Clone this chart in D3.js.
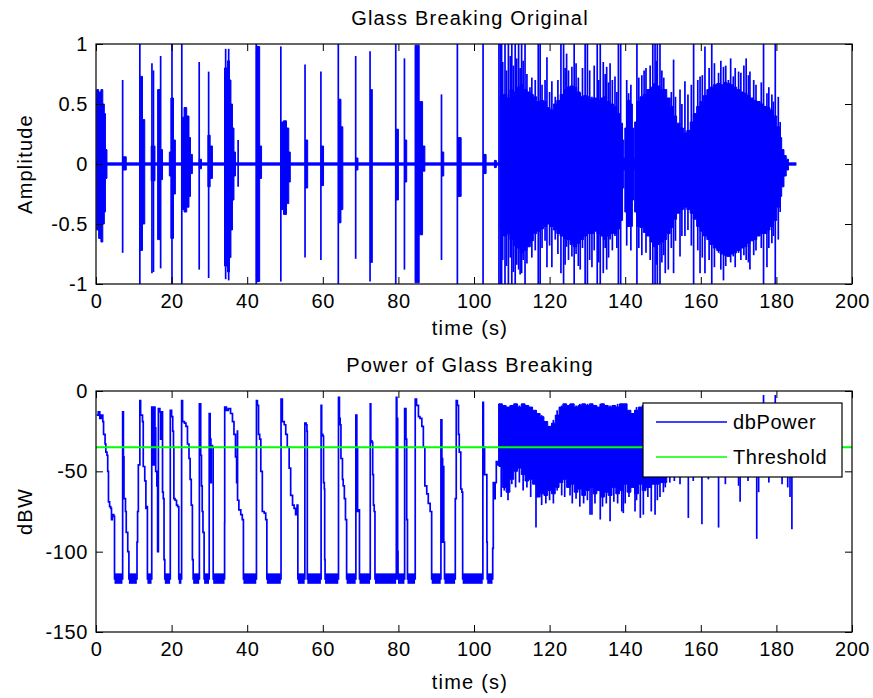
<!DOCTYPE html>
<html>
<head>
<meta charset="utf-8">
<script src="https://cdn.jsdelivr.net/npm/d3@7"></script>
<style>
  html, body { margin: 0; padding: 0; background: #ffffff; }
  svg text { font-family: "Liberation Sans", Arial, Helvetica, sans-serif; fill: #000; letter-spacing: 0.6px; }
  svg text.title { letter-spacing: 1.2px; }
</style>
</head>
<body>
<svg id="fig" width="873" height="698"></svg>
<script>
// ---------- shared axis values ----------
const timeTicks = [0, 20, 40, 60, 80, 100, 120, 140, 160, 180, 200];
const ampTicks = [-1, -0.5, 0, 0.5, 1];
const dbTicks = [-150, -100, -50, 0];
const timeDomain = [0, 200];
const ampDomain = [-1, 1];
const dbDomain = [-150, 0];

// ---------- waveform (amplitude) ----------
// quiet noise floor of the recording: [start, end, half-width]
const noiseFloor = [0, 185.3, 0.014];

// isolated bursts: rows of [t, upper, lower], held until the next row
const bursts = [
  [[0.2, 0.62, -0.55], [0.7, 0.6, -0.62], [1.3, 0.62, -0.65], [1.8, 0.5, -0.5], [2.2, 0.42, -0.4], [2.5, 0.12, -0.12], [2.9, 0, 0]],
  [[7.1, 0.06, -0.05], [8.0, 0, 0]],
  [[11.7, 0.73, -0.72], [12.3, 0.37, -0.5], [12.9, 0, 0]],
  [[14.6, 0.15, -0.14], [15.6, 0, 0]],
  [[16.3, 0.62, -0.63], [17.0, 0.12, -0.13], [17.6, 0, 0]],
  [[19.4, 0.1, -0.1], [19.8, 0.55, -0.62], [20.5, 0.2, -0.25], [21.0, 0, 0]],
  [[22.8, 0.39, -0.38], [23.3, 0.47, -0.4], [24.0, 0.4, -0.36], [24.6, 0.22, -0.27], [25.0, 0.08, -0.08], [25.5, 0, 0]],
  [[27.3, 0.04, -0.04], [27.9, 0, 0]],
  [[29.6, 0.24, -0.19], [30.2, 0.15, -0.12], [30.8, 0, 0]],
  [[34.0, 0.8, -0.85], [34.8, 0.86, -0.9], [35.3, 0.7, -0.78], [35.7, 0.5, -0.55], [36.1, 0.3, -0.3], [36.5, 0.1, -0.1], [36.9, 0, 0]],
  [[42.4, 0.98, -0.98], [43.3, 0.15, -0.12], [43.8, 0, 0]],
  [[49.0, 0.35, -0.38], [49.6, 0.36, -0.42], [50.4, 0.3, -0.33], [51.0, 0.1, -0.15], [51.4, 0, 0]],
  [[55.4, 0.2, -0.2], [56.0, 0, 0]],
  [[59.6, 0.15, -0.18], [60.2, 0, 0]],
  [[64.2, 0.54, -0.49], [64.8, 0.31, -0.38], [65.3, 0, 0]],
  [[68.8, 0.05, -0.05], [69.3, 0, 0]],
  [[72.6, 0.62, -0.82], [73.1, 0, 0]],
  [[79.4, 0.29, -0.3], [80.0, 0, 0]],
  [[81.7, 0.2, -0.15], [82.2, 0, 0]],
  [[84.4, 0.99, -0.99], [85.5, 0.52, -0.59], [86.4, 0.15, -0.06], [87.0, 0, 0]],
  [[91.5, 0.1, -0.1], [92.0, 0, 0]],
  [[95.7, 0.22, -0.27], [96.6, 0, 0]],
  [[102.5, 0.08, -0.08], [103.2, 0, 0]],
  [[105.4, 0.03, -0.03], [105.9, 0, 0]]
];

// continuous breaking section: [t, upper, lower]
const denseEnvelope = [
  [106.9, 0.56, -0.55], [107.8, 0.58, -0.6], [108.7, 0.55, -0.58], [109.5, 0.62, -0.63],
  [110.4, 0.6, -0.68], [111.3, 0.64, -0.7], [112.2, 0.66, -0.74], [113.1, 0.62, -0.72],
  [114.0, 0.6, -0.69], [114.9, 0.58, -0.64], [115.7, 0.56, -0.58], [116.6, 0.52, -0.56],
  [117.5, 0.53, -0.54], [118.4, 0.52, -0.52], [119.2, 0.47, -0.5], [120.1, 0.45, -0.52],
  [121.0, 0.5, -0.55], [121.9, 0.53, -0.58], [122.8, 0.58, -0.6], [123.7, 0.62, -0.62],
  [124.5, 0.64, -0.63], [125.4, 0.65, -0.67], [126.3, 0.64, -0.69], [127.2, 0.6, -0.66],
  [128.1, 0.56, -0.63], [129.0, 0.57, -0.6], [129.8, 0.56, -0.58], [130.7, 0.54, -0.58],
  [131.6, 0.55, -0.56], [132.5, 0.53, -0.58], [133.4, 0.55, -0.6], [134.2, 0.56, -0.63],
  [135.1, 0.52, -0.6], [136.0, 0.5, -0.58], [136.9, 0.48, -0.58], [137.8, 0.42, -0.54],
  [138.7, 0.34, -0.47], [139.3, 0.2, -0.2], [139.6, 0.05, -0.05], [139.9, 0.3, -0.4],
  [140.4, 0.53, -0.52], [141.3, 0.5, -0.52], [141.9, 0.3, -0.3], [142.2, 0.05, -0.05],
  [142.5, 0.35, -0.4], [143.1, 0.52, -0.52], [143.9, 0.56, -0.53], [144.8, 0.58, -0.57],
  [145.7, 0.62, -0.6], [146.6, 0.64, -0.65], [147.5, 0.67, -0.69], [148.4, 0.65, -0.67],
  [149.2, 0.62, -0.65], [150.1, 0.62, -0.63], [151.0, 0.55, -0.58], [151.9, 0.48, -0.53],
  [152.8, 0.4, -0.46], [153.6, 0.34, -0.41], [154.5, 0.3, -0.38], [155.4, 0.26, -0.36],
  [156.3, 0.28, -0.38], [157.2, 0.35, -0.41], [158.0, 0.42, -0.46], [158.9, 0.48, -0.52],
  [159.8, 0.52, -0.56], [160.7, 0.57, -0.6], [161.6, 0.62, -0.63], [162.4, 0.64, -0.67],
  [163.3, 0.66, -0.7], [164.2, 0.67, -0.72], [165.1, 0.66, -0.75], [166.0, 0.68, -0.76],
  [166.9, 0.67, -0.77], [167.8, 0.66, -0.75], [168.6, 0.64, -0.74], [169.5, 0.62, -0.72],
  [170.4, 0.6, -0.7], [171.3, 0.59, -0.69], [172.2, 0.57, -0.66], [173.0, 0.55, -0.64],
  [173.9, 0.53, -0.63], [174.8, 0.52, -0.6], [175.7, 0.5, -0.58], [176.6, 0.48, -0.58],
  [177.5, 0.47, -0.55], [178.3, 0.45, -0.52], [179.2, 0.4, -0.47], [180.1, 0.31, -0.36],
  [180.8, 0.22, -0.27], [181.4, 0.12, -0.19], [182.0, 0.07, -0.1], [182.6, 0.04, -0.05],
  [183.2, 0.02, -0.02]
];

// single impacts: [t, peak, trough]
const spikes = [
  [7.05, 0.70, -0.74], [11.6, 1, -1], [14.8, 0.84, -0.91], [15.2, 0.78, -0.9], [17.1, 0.9, -0.87],
  [20.1, 1, -1], [22.7, 1, -1], [27.3, 0.85, -0.88], [29.8, 0.77, -0.95], [34.3, 0.96, -0.96],
  [35.1, 0.96, -0.97], [37.6, 0.2, -0.19], [42.4, 1, -1], [48.9, 0.98, -0.98], [55.3, 0.83, -0.78],
  [59.5, 0.77, -0.8], [64.1, 1, -1], [68.7, 0.9, -0.79], [72.5, 0.94, -0.98], [79.3, 1, -1],
  [81.6, 0.88, -0.88], [91.4, 0.58, -0.8], [95.6, 1, -1], [102.4, 1, -1], [106.6, 1, -1], [107.0, 1, -1],
  [107.3, 1, -1], [108.2, 1, -1], [109.1, 1, -1], [110.0, 1, -1], [110.9, 1, -1], [111.8, 1, -0.88],
  [112.6, 1, -0.91], [113.5, 1, -1], [114.8, 0.64, -0.66], [117.0, 1, -1], [117.5, 1, -1],
  [119.3, 0.89, -0.86], [120.6, 0.69, -0.86], [121.5, 0.56, -0.63], [123.0, 1, -0.91], [123.7, 1, -1],
  [124.5, 0.92, -0.69], [125.9, 0.81, -0.77], [126.5, 1, -1], [128.1, 0.59, -0.88], [129.4, 1, -1],
  [130.0, 1, -1], [131.2, 0.56, -0.86], [132.6, 1, -1], [133.4, 1, -1], [134.2, 0.85, -0.91],
  [135.1, 0.81, -0.88], [136.0, 0.84, -0.63], [137.3, 0.73, -0.6], [138.2, 1, -1], [138.8, 1, -1],
  [140.9, 0.59, -0.52], [143.1, 1, -1], [145.0, 0.78, -0.25], [146.1, 0.62, -0.52], [147.3, 1, -1],
  [147.9, 1, -1], [148.5, 1, -1], [149.2, 1, -1], [150.6, 0.53, -0.91], [151.4, 0.53, -0.88],
  [152.8, 0.87, -0.91], [154.5, 0.62, -0.77], [155.8, 0.69, -0.6], [158.1, 1, -1], [159.8, 0.73, -0.91],
  [161.1, 0.98, -0.91], [162.9, 1, -1], [164.7, 0.76, -0.74], [166.0, 0.81, -0.97], [167.3, 0.7, -0.63],
  [168.6, 0.73, -0.77], [170.0, 0.77, -0.74], [172.0, 0.88, -0.8], [173.0, 0.77, -0.88],
  [175.3, 0.45, -0.52], [176.6, 1, -1], [177.5, 0.59, -0.86], [179.7, 1, -1], [180.5, 0.56, -0.63],
  // smaller cracks riding on the continuous section
  [107.6, 0.85, -0.8], [108.6, 0.78, -0.85], [109.6, 0.9, -0.78], [110.4, 0.82, -0.9], [111.3, 0.88, -0.84],
  [112.2, 0.8, -0.92], [113.0, 0.86, -0.8], [114.0, 0.75, -0.83], [115.3, 0.72, -0.78], [116.2, 0.7, -0.72],
  [118.0, 0.66, -0.7], [118.8, 0.7, -0.64], [120.0, 0.6, -0.68], [122.2, 0.7, -0.75], [124.1, 0.8, -0.84],
  [125.0, 0.78, -0.8], [127.0, 0.84, -0.75], [127.6, 0.72, -0.85], [128.7, 0.8, -0.7], [130.6, 0.78, -0.8],
  [131.8, 0.82, -0.72], [133.0, 0.7, -0.82], [134.7, 0.75, -0.7], [135.6, 0.68, -0.78], [136.6, 0.7, -0.72],
  [137.8, 0.6, -0.7], [140.4, 0.7, -0.68], [141.5, 0.66, -0.72], [143.6, 0.72, -0.7], [144.4, 0.74, -0.76],
  [145.5, 0.8, -0.74], [146.6, 0.82, -0.8], [148.2, 0.86, -0.84], [149.7, 0.78, -0.82], [150.2, 0.72, -0.76],
  [152.2, 0.6, -0.7], [153.3, 0.56, -0.64], [155.0, 0.5, -0.6], [156.6, 0.58, -0.55], [157.5, 0.66, -0.68],
  [159.2, 0.7, -0.72], [160.4, 0.74, -0.78], [162.2, 0.8, -0.8], [163.6, 0.84, -0.86], [165.3, 0.86, -0.88],
  [166.6, 0.82, -0.85], [167.9, 0.88, -0.82], [169.1, 0.8, -0.86], [170.6, 0.76, -0.8], [171.4, 0.82, -0.76],
  [172.6, 0.74, -0.82], [174.0, 0.7, -0.76], [174.6, 0.66, -0.72], [176.0, 0.68, -0.7], [178.0, 0.64, -0.7],
  [178.8, 0.58, -0.66], [179.2, 0.52, -0.6], [181.0, 0.35, -0.4]
];

// ---------- power (dBW) ----------
const threshold = -35;
// silent stretches sit on a noisy floor between these two levels
const floorBand = [-113.5, -120];
const floorSpans = [
  [4.9, 7.0], [8.7, 10.8], [13.6, 14.7], [18.2, 19.6], [21.9, 22.6], [25.7, 27.3], [28.6, 29.9],
  [31.0, 34.0], [39.0, 42.4], [45.2, 48.9], [53.4, 55.2], [55.9, 59.5], [60.6, 64.1], [66.3, 68.7],
  [69.7, 72.5], [73.8, 79.4], [79.9, 81.6], [82.4, 84.4], [88.8, 91.2], [92.2, 95.0], [97.0, 102.3],
  [103.5, 104.9]
];
// frame power before the continuous section: [t, dB]
const powerTrace = [
  [0.2, -15], [0.6, -13], [1.0, -17], [1.4, -15], [1.8, -19], [2.0, -27], [2.4, -33], [2.6, -38], [2.9, -40],
  [3.1, -50], [3.3, -69], [3.6, -72], [3.9, -73], [4.1, -80], [4.3, -77], [4.7, -78], [4.9, -117],
  [7.0, -117], [7.05, -13], [7.25, -41], [7.4, -67], [7.8, -75], [8.0, -88], [8.4, -100], [8.7, -117],
  [10.8, -117], [10.85, -94], [11.0, -75], [11.2, -46], [11.6, -6], [11.8, -15], [12.3, -19], [12.5, -47],
  [12.9, -56], [13.2, -73], [13.4, -72], [13.6, -117],
  [14.7, -117], [14.75, -10], [15.1, -27], [15.2, -46], [15.35, -10], [15.6, -23], [15.8, -50], [16.1, -59],
  [16.3, -100], [16.5, -11], [16.9, -13], [17.1, -30], [17.4, -13], [17.6, -63], [17.8, -67], [18.0, -105], [18.2, -117],
  [19.6, -117], [19.65, -12], [20.0, -16], [20.3, -25], [20.5, -35], [20.6, -67], [20.9, -68], [21.3, -71],
  [21.6, -72], [21.9, -117],
  [22.6, -117], [22.65, -6], [22.9, -19], [23.4, -20], [23.8, -22], [24.2, -33], [24.6, -42], [24.9, -55],
  [25.2, -71], [25.5, -105], [25.7, -117],
  [27.3, -117], [27.35, -8], [27.7, -40], [27.9, -59], [28.1, -75], [28.3, -88], [28.6, -117],
  [29.9, -117], [29.95, -14], [30.2, -30], [30.4, -57], [30.5, -34], [30.8, -35], [31.0, -117],
  [34.0, -117], [34.02, -82], [34.05, -10], [34.5, -12], [35.0, -11], [35.6, -14], [36.1, -19], [36.5, -27],
  [36.9, -41], [37.2, -57], [37.4, -25], [37.45, -68], [37.8, -74], [38.3, -77], [38.7, -80], [39.0, -117],
  [42.4, -117], [42.45, -6], [42.7, -9], [43.0, -27], [43.3, -30], [43.6, -50], [44.0, -75], [44.5, -76],
  [44.9, -80], [45.2, -117],
  [48.9, -117], [48.95, -5], [49.3, -19], [49.8, -21], [50.2, -27], [50.6, -35], [51.1, -48], [51.5, -65],
  [52.0, -71], [52.4, -73], [52.8, -77], [53.2, -71], [53.4, -117],
  [55.2, -117], [55.25, -20], [55.6, -21], [55.8, -25], [55.9, -117],
  [59.5, -117], [59.55, -9], [59.7, -27], [60.0, -28], [60.2, -57], [60.4, -61], [60.5, -105], [60.6, -117],
  [64.1, -117], [64.15, -4], [64.4, -17], [64.6, -21], [64.8, -42], [65.2, -55], [65.4, -59], [65.7, -67],
  [66.0, -80], [66.3, -117],
  [68.7, -117], [68.75, -15], [69.0, -36], [69.2, -75], [69.4, -74], [69.7, -117],
  [72.5, -117], [72.55, -8], [72.7, -31], [73.0, -32], [73.2, -52], [73.4, -71], [73.6, -75], [73.8, -117],
  [79.4, -117], [79.45, -4], [79.6, -17], [79.8, -100], [79.9, -117],
  [81.6, -117], [81.65, -11], [82.0, -30], [82.2, -80], [82.4, -117],
  [84.4, -117], [84.45, -5], [84.8, -9], [85.3, -16], [85.7, -17], [86.2, -22], [86.6, -35], [87.0, -59],
  [87.5, -64], [87.9, -70], [88.4, -75], [88.8, -117],
  [91.2, -117], [91.25, -18], [91.5, -42], [91.7, -94], [91.75, -47], [92.0, -94], [92.2, -117],
  [95.0, -117], [95.05, -67], [95.3, -6], [95.6, -9], [95.9, -27], [96.1, -38], [96.5, -61], [96.8, -63], [97.0, -117],
  [102.3, -117], [102.35, -7], [102.5, -35], [102.8, -52], [103.1, -52], [103.4, -94], [103.5, -117],
  [104.9, -117], [104.95, -98], [105.1, -57], [105.4, -67], [105.6, -57], [105.9, -44], [106.3, -46], [106.6, -8]
];
// continuous section of the power trace: [t, upper dB, lower dB]
const powerEnvelope = [
  [106.6, -8, -47], [107.5, -9, -60], [108.5, -10, -63], [109.5, -9, -55], [110.5, -8, -50], [111.5, -10, -48],
  [112.5, -8, -52], [113.5, -9, -56], [114.5, -10, -55], [115.5, -12, -58], [116.5, -14, -66], [117.5, -16, -64],
  [118.5, -19, -65], [119.5, -22, -62], [120.5, -20, -64], [121.5, -15, -60], [122.5, -10, -57], [123.5, -8, -55],
  [124.5, -9, -60], [125.5, -8, -58], [126.5, -10, -63], [127.5, -9, -61], [128.5, -8, -65], [129.5, -9, -62],
  [130.5, -8, -60], [131.5, -9, -64], [132.5, -10, -62], [133.5, -8, -66], [134.5, -9, -63], [135.5, -10, -65],
  [136.5, -9, -60], [137.5, -10, -64], [138.5, -8, -62], [139.5, -8, -58], [140.5, -12, -63], [141.5, -14, -60],
  [142.5, -12, -64], [143.5, -10, -58], [144.5, -9, -62], [145.5, -10, -60], [147.0, -10, -58], [149.0, -10, -57],
  [151.0, -10, -52], [155.0, -10, -50], [160.0, -10, -50], [165.0, -10, -50], [170.0, -10, -50], [175.0, -10, -50],
  [180.0, -10, -50], [183.0, -12, -50], [184.5, -20, -52]
];
// deep dips and peaks inside the continuous section: [t, top dB, bottom dB]
const powerSpikes = [
  [116.4, -12, -85], [117.9, -15, -71], [123.2, -9, -65], [125.4, -8, -65], [130.7, -9, -77], [131.2, -9, -77],
  [133.4, -8, -80], [136.0, -9, -81], [139.1, -8, -75], [139.5, -8, -76], [142.6, -12, -75], [144.0, -10, -79],
  [144.8, -10, -77], [145.7, -10, -59], [146.9, -10, -75], [147.9, -10, -77], [149.2, -10, -66], [150.1, -10, -63],
  [151.8, -10, -57], [154.5, -10, -58], [156.7, -10, -79], [160.3, -10, -83], [162.0, -10, -55], [164.7, -10, -85],
  [170.0, -10, -59], [170.4, -10, -69], [174.8, -10, -92], [175.3, -10, -63], [176.6, -2.5, -20], [179.7, -2.5, -20],
  [183.0, -10, -60], [183.6, -10, -66], [184.1, -10, -86],
  [107.2, -9, -66], [108.0, -9, -62], [109.0, -10, -68], [110.0, -9, -58], [111.0, -8, -60], [112.0, -9, -57],
  [113.0, -9, -62], [114.0, -9, -60], [115.0, -10, -66], [119.0, -20, -70], [120.0, -22, -68], [121.0, -18, -70],
  [122.0, -12, -62], [124.0, -8, -66], [126.0, -9, -70], [127.0, -9, -67], [128.0, -8, -72], [129.0, -9, -70],
  [130.0, -8, -68], [132.0, -9, -70], [134.0, -8, -72], [135.0, -9, -70], [137.0, -9, -69], [138.0, -8, -70],
  [140.0, -10, -70], [141.0, -13, -66], [143.0, -10, -68], [146.0, -10, -66], [148.5, -10, -68], [150.6, -10, -60],
  [153.0, -10, -56], [158.0, -10, -56], [166.5, -10, -58], [172.5, -10, -56], [178.0, -10, -57], [181.5, -10, -58]
];

const legendItems = [
  { label: "dbPower", color: "#0000ff" },
  { label: "Threshold", color: "#00ff00" }
];

// ---------- layout ----------
const svg = d3.select("#fig");
const left = 96, right = 852;
const textCenter = 470;
const topPanel = { top: 44, bottom: 284, title: "Glass Breaking Original", ylabel: "Amplitude", xlabelGap: 51 };
const botPanel = { top: 391, bottom: 632, title: "Power of Glass Breaking", ylabel: "dBW", xlabelGap: 57 };
const BLUE = "#0000ff";
const FONT = 20;

const x = d3.scaleLinear().domain(timeDomain).range([left, right]);
const yAmp = d3.scaleLinear().domain(ampDomain).range([topPanel.bottom, topPanel.top]);
const yDb = d3.scaleLinear().domain(dbDomain).range([botPanel.bottom, botPanel.top]);
const plainNumber = d => String(d);   // keeps the ASCII hyphen for negatives

const defs = svg.append("defs");
function clipFor(id, p) {
  defs.append("clipPath").attr("id", id).append("rect")
    .attr("x", left).attr("y", p.top).attr("width", right - left).attr("height", p.bottom - p.top);
}
clipFor("clipTop", topPanel);
clipFor("clipBot", botPanel);

function drawFrame(p, y, yTicks) {
  const g = svg.append("g");
  const tick = 7;
  // ticks on all four sides, pointing inward
  const axB = d3.axisBottom(x).tickValues(timeTicks).tickSizeInner(-tick).tickSizeOuter(0).tickPadding(10).tickFormat(plainNumber);
  const axT = d3.axisTop(x).tickValues(timeTicks).tickSizeInner(-tick).tickSizeOuter(0).tickFormat("");
  const axL = d3.axisLeft(y).tickValues(yTicks).tickSizeInner(-tick).tickSizeOuter(0).tickPadding(8).tickFormat(plainNumber);
  const axR = d3.axisRight(y).tickValues(yTicks).tickSizeInner(-tick).tickSizeOuter(0).tickFormat("");
  const gB = g.append("g").attr("transform", `translate(0,${p.bottom})`).call(axB);
  const gT = g.append("g").attr("transform", `translate(0,${p.top})`).call(axT);
  const gL = g.append("g").attr("transform", `translate(${left},0)`).call(axL);
  const gR = g.append("g").attr("transform", `translate(${right},0)`).call(axR);
  [gB, gT, gL, gR].forEach(a => {
    a.select(".domain").remove();
    a.selectAll(".tick line").attr("stroke", "#000").attr("stroke-width", 1);
    a.selectAll("text").style("font-size", FONT + "px").attr("fill", "#000");
  });
  gB.selectAll("text").attr("dy", "0.71em");
  g.append("rect").attr("x", left).attr("y", p.top).attr("width", right - left).attr("height", p.bottom - p.top)
    .attr("fill", "none").attr("stroke", "#000").attr("stroke-width", 1.2);
  svg.append("text").attr("class", "title").attr("x", textCenter).attr("y", p.top - 19)
    .attr("text-anchor", "middle").style("font-size", FONT + "px").text(p.title);
  svg.append("text").attr("class", "title").attr("x", textCenter).attr("y", p.bottom + p.xlabelGap)
    .attr("text-anchor", "middle").style("font-size", FONT + "px").text("time (s)");
  svg.append("text").attr("class", "title").attr("transform", `translate(32,${(p.top + p.bottom) / 2}) rotate(-90)`)
    .attr("text-anchor", "middle").style("font-size", FONT + "px").text(p.ylabel);
}

// ---------- top panel: waveform ----------
const gw = svg.append("g").attr("clip-path", "url(#clipTop)");

gw.append("rect")
  .attr("x", x(noiseFloor[0])).attr("width", x(noiseFloor[1]) - x(noiseFloor[0]))
  .attr("y", yAmp(noiseFloor[2])).attr("height", yAmp(-noiseFloor[2]) - yAmp(noiseFloor[2]))
  .attr("fill", BLUE);

gw.selectAll("path.burst").data(bursts).join("path").attr("class", "burst")
  .attr("d", d3.area().x(d => x(d[0])).y0(d => yAmp(d[2])).y1(d => yAmp(d[1])).curve(d3.curveStepAfter))
  .attr("fill", BLUE).attr("stroke", BLUE).attr("stroke-width", 1);

gw.append("path").datum(denseEnvelope)
  .attr("d", d3.area().x(d => x(d[0])).y0(d => yAmp(d[2])).y1(d => yAmp(d[1])).curve(d3.curveStepAfter))
  .attr("fill", BLUE).attr("stroke", BLUE).attr("stroke-width", 1);

gw.selectAll("line.spike").data(spikes).join("line").attr("class", "spike")
  .attr("x1", d => x(d[0])).attr("x2", d => x(d[0]))
  .attr("y1", d => yAmp(d[1])).attr("y2", d => yAmp(d[2]))
  .attr("stroke", BLUE).attr("stroke-width", 1.7);

drawFrame(topPanel, yAmp, ampTicks);

// ---------- bottom panel: power ----------
const gp = svg.append("g").attr("clip-path", "url(#clipBot)");

gp.append("path").datum(powerTrace)
  .attr("d", d3.line().x(d => x(d[0])).y(d => yDb(d[1])).curve(d3.curveStepAfter))
  .attr("fill", "none").attr("stroke", BLUE).attr("stroke-width", 1.7);

gp.selectAll("rect.floor").data(floorSpans).join("rect").attr("class", "floor")
  .attr("x", d => x(d[0])).attr("width", d => x(d[1]) - x(d[0]))
  .attr("y", yDb(floorBand[0])).attr("height", yDb(floorBand[1]) - yDb(floorBand[0]))
  .attr("fill", BLUE);

gp.append("path").datum(powerEnvelope)
  .attr("d", d3.area().x(d => x(d[0])).y0(d => yDb(d[2])).y1(d => yDb(d[1])).curve(d3.curveStepAfter))
  .attr("fill", BLUE).attr("stroke", BLUE).attr("stroke-width", 1);

gp.selectAll("line.pspike").data(powerSpikes).join("line").attr("class", "pspike")
  .attr("x1", d => x(d[0])).attr("x2", d => x(d[0]))
  .attr("y1", d => yDb(d[1])).attr("y2", d => yDb(d[2]))
  .attr("stroke", BLUE).attr("stroke-width", 1.7);

gp.append("line")
  .attr("x1", x(timeDomain[0])).attr("x2", x(timeDomain[1]))
  .attr("y1", yDb(threshold)).attr("y2", yDb(threshold))
  .attr("stroke", "#00ff00").attr("stroke-width", 1.8);

drawFrame(botPanel, yDb, dbTicks);

// ---------- legend ----------
const lg = svg.append("g").attr("transform", "translate(643,403)");
lg.append("rect").attr("width", 199).attr("height", 74)
  .attr("fill", "#fff").attr("stroke", "#000").attr("stroke-width", 1.2);
const rows = lg.selectAll("g.item").data(legendItems).join("g").attr("class", "item")
  .attr("transform", (d, i) => `translate(0,${19 + i * 35})`);
rows.append("line").attr("x1", 13).attr("x2", 84).attr("y1", 0).attr("y2", 0)
  .attr("stroke", d => d.color).attr("stroke-width", 1.4);
rows.append("text").attr("x", 90).attr("y", 0).attr("dy", "0.35em")
  .style("font-size", FONT + "px").text(d => d.label);
</script>
</body>
</html>
